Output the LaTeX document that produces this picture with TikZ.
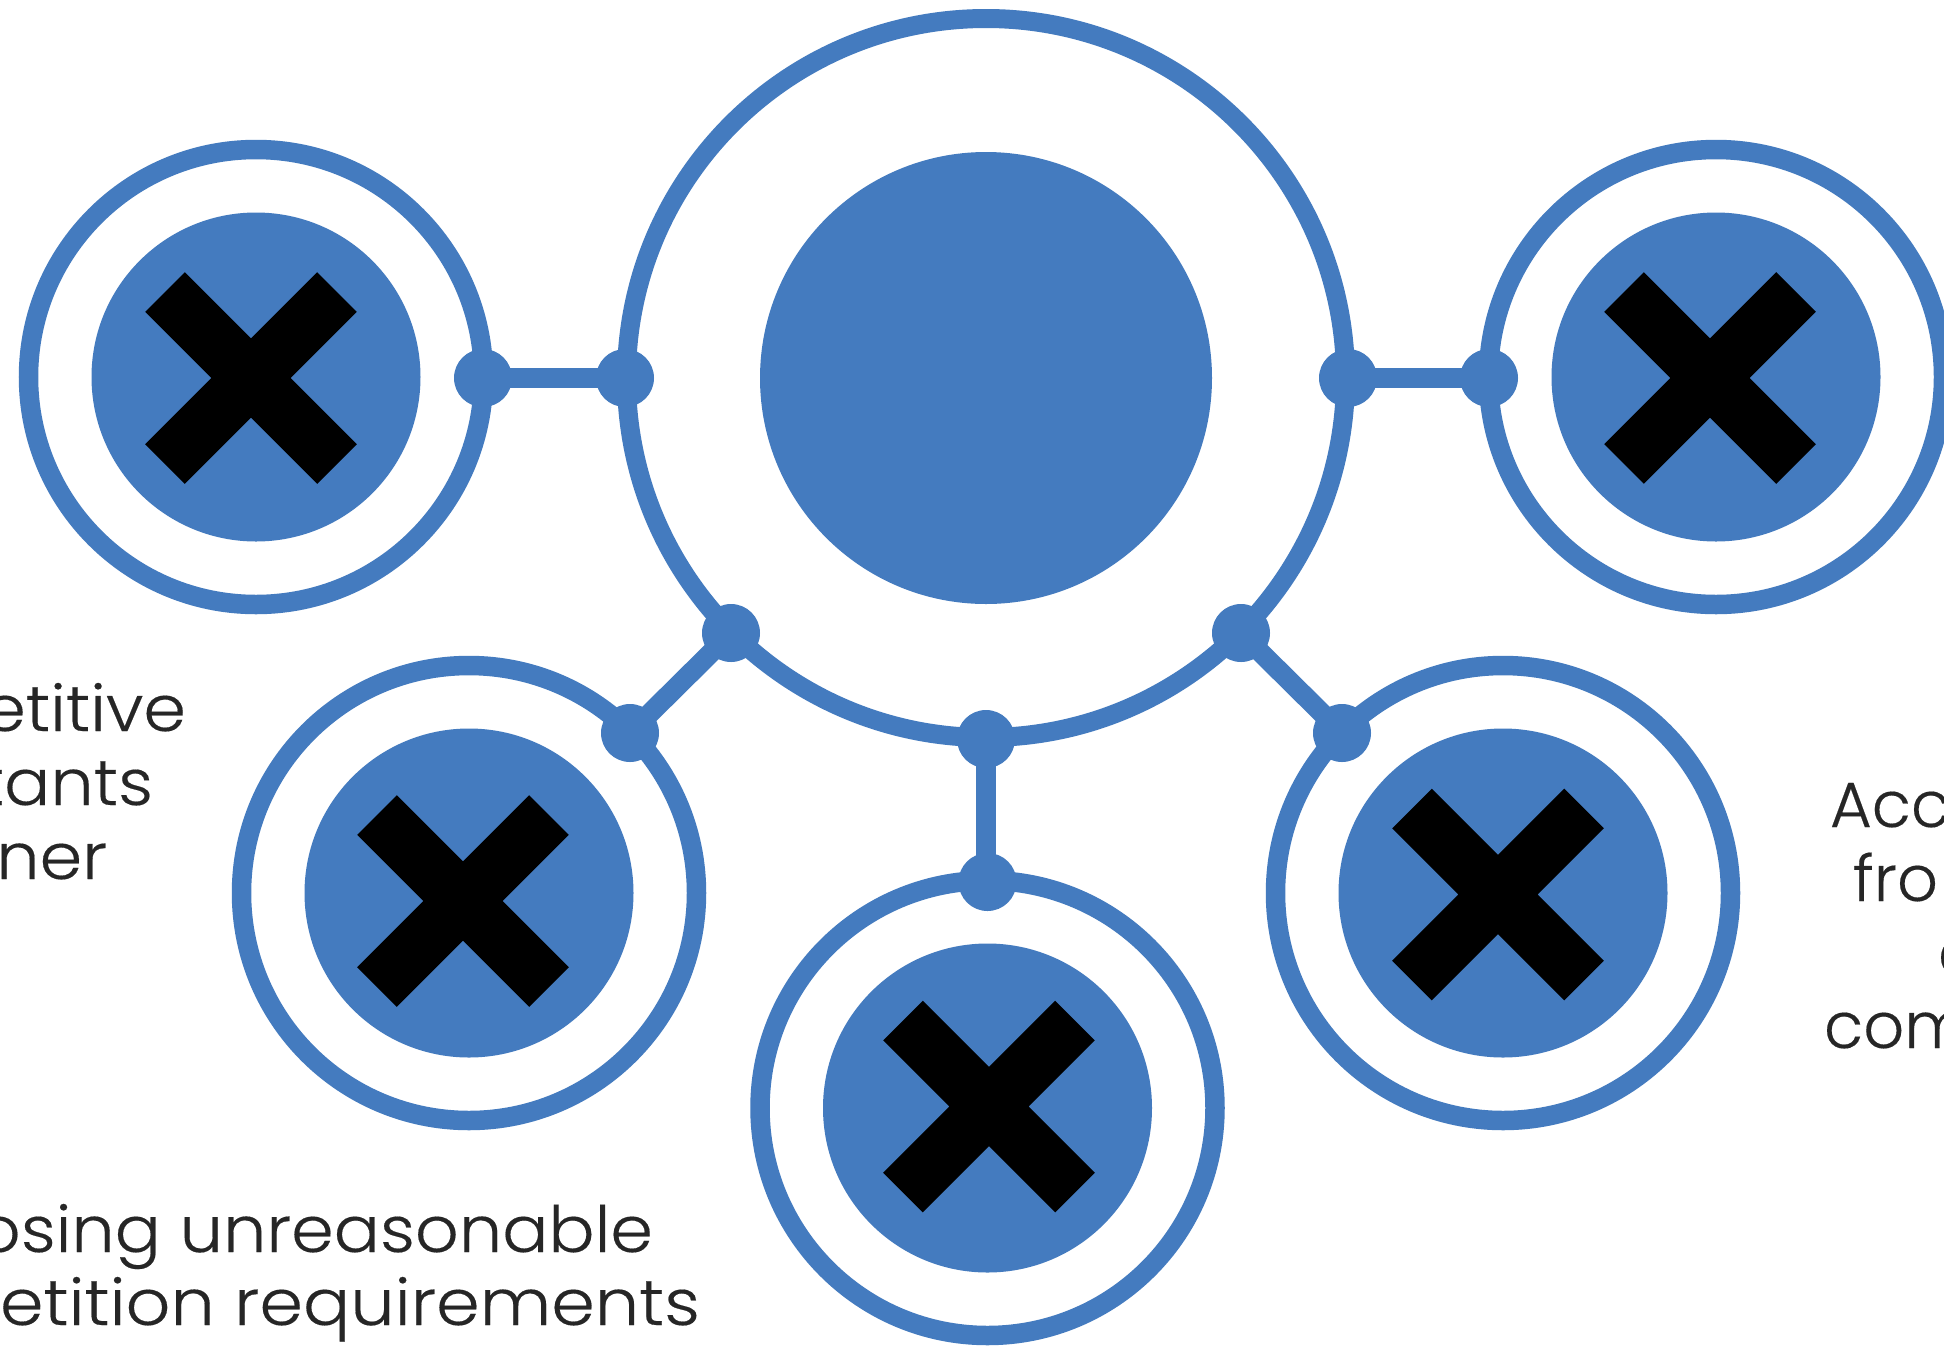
\documentclass[tikz,border=0pt]{standalone}
\usepackage{fontspec}
\usetikzlibrary{shapes.misc}
\newfontfamily\lbl[FakeStretch=1.07,FakeBold=0.25]{Poppins Light}
\newfontfamily\lblw[FakeStretch=1.095,FakeBold=0.25]{Poppins Light}
\newfontfamily\lbln[FakeBold=0.25]{Poppins Light}
\definecolor{ringblue}{HTML}{447BBF}
\definecolor{inkgrey}{HTML}{262626}
\tikzset{
  ringbig/.style={circle,draw=ringblue,fill=white,line width=19pt,inner sep=0pt,outer sep=0pt,minimum size=719pt},
  ringsat/.style={circle,draw=ringblue,fill=white,line width=19.5pt,inner sep=0pt,outer sep=0pt,minimum size=455pt},
  discbig/.style={circle,fill=ringblue,inner sep=0pt,outer sep=0pt,minimum size=452pt},
  discsat/.style={circle,fill=ringblue,inner sep=0pt,outer sep=0pt,minimum size=329pt},
  joint/.style={circle,fill=ringblue,inner sep=0pt,outer sep=0pt,minimum size=58pt},
  xmark/.style={cross out,draw=black,line width=56pt,line cap=butt,inner sep=0pt,outer sep=0pt,minimum size=172pt},
  linkstraight/.style={draw=ringblue,line width=20pt},
  txt/.style={inkgrey,font=\lbl\fontsize{64}{74}\selectfont,inner sep=0pt,outer sep=0pt},
  txtw/.style={inkgrey,font=\lblw\fontsize{64}{74}\selectfont,inner sep=0pt,outer sep=0pt},
  txtn/.style={inkgrey,font=\lbln\fontsize{64}{74}\selectfont,inner sep=0pt,outer sep=0pt},
}
\begin{document}
\begin{tikzpicture}[x=1pt,y=-1pt]
\clip (0,0) rectangle (1944,1345);
\fill[white] (0,0) rectangle (1944,1345);
% rings
\node[ringbig] (main) at (986,378) {};
\node[ringsat] (tl) at (256,377) {};
\node[ringsat] (tr) at (1716,377) {};
\node[ringsat] (ll) at (469,893) {};
\node[ringsat] (lr) at (1503,893) {};
\node[ringsat] (bt) at (987.5,1108) {};
% discs
\node[discbig] (maindisc) at (986,378) {};
\node[discsat] (tld) at (256,377) {};
\node[discsat] (trd) at (1716,377) {};
\node[discsat] (lld) at (469,893) {};
\node[discsat] (lrd) at (1503,893) {};
\node[discsat] (btd) at (987.5,1108) {};
% crosses
\node[xmark] (tlx) at (251,378) {};
\node[xmark] (trx) at (1710,378) {};
\node[xmark] (llx) at (463,901) {};
\node[xmark] (lrx) at (1498,894.5) {};
\node[xmark] (btx) at (989,1106.5) {};
% joints
\node[joint] (j1a) at (483,378) {};
\node[joint] (j1b) at (625,378) {};
\node[joint] (j2a) at (1348,378) {};
\node[joint] (j2b) at (1489,378) {};
\node[joint] (j3a) at (731,633) {};
\node[joint] (j3b) at (630,733) {};
\node[joint] (j4a) at (1241,633) {};
\node[joint] (j4b) at (1342,733) {};
\node[joint] (j5a) at (986,739) {};
\node[joint] (j5b) at (987.5,882) {};
% connectors
\draw[linkstraight] (j1a.center) -- (j1b.center);
\draw[linkstraight] (j2a.center) -- (j2b.center);
\draw[linkstraight] (j3a.center) -- (j3b.center);
\draw[linkstraight] (j4a.center) -- (j4b.center);
\draw[linkstraight] (j5a.center) -- (j5a.center |- j5b.center);
% clipped labels
\node[txt,anchor=base east] (a1) at (186,731) {etitive};
\node[txt,anchor=base east] (a2) at (153,805) {tants};
\node[txt,anchor=base east] (a3) at (107,879) {ner};
\node[txt,anchor=base east] (b1) at (653,1252) {osing unreasonable};
\node[txtw,anchor=base east] (b2) at (700,1325) {etition requirements};
\node[txtn,anchor=base west] (c1) at (1830,827) {Acc};
\node[txtn,anchor=base west] (c2) at (1853,901) {fro};
\node[txtn,anchor=base west] (c3) at (1938,975) {c};
\node[txtn,anchor=base west] (c4) at (1824,1048) {com};
\end{tikzpicture}
\end{document}
